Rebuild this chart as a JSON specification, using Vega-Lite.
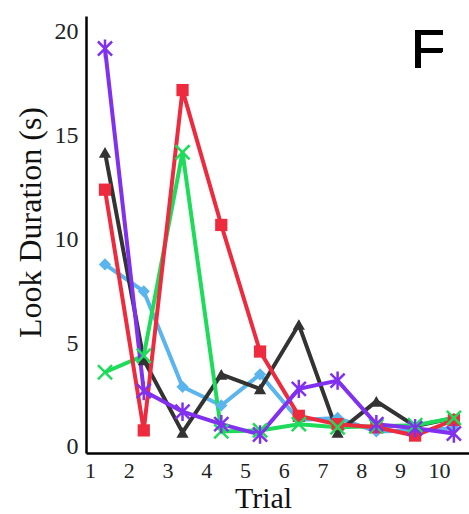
{
  "$schema": "https://vega.github.io/schema/vega-lite/v6.json",
  "width": 383,
  "height": 437,
  "autosize": {"type": "none"},
  "padding": {"left": 86, "top": 16, "right": 0, "bottom": 61},
  "background": "white",
  "config": {"view": {"stroke": null}},
  "data": {"values": [
    {"Trial": 1, "Series": "S3", "Duration": 8.8},
    {"Trial": 2, "Series": "S3", "Duration": 7.5},
    {"Trial": 3, "Series": "S3", "Duration": 2.9},
    {"Trial": 4, "Series": "S3", "Duration": 2.0},
    {"Trial": 5, "Series": "S3", "Duration": 3.5},
    {"Trial": 6, "Series": "S3", "Duration": 1.3},
    {"Trial": 7, "Series": "S3", "Duration": 1.4},
    {"Trial": 8, "Series": "S3", "Duration": 0.75},
    {"Trial": 9, "Series": "S3", "Duration": 0.8},
    {"Trial": 10, "Series": "S3", "Duration": 0.9},
    {"Trial": 1, "Series": "S2", "Duration": 14.2},
    {"Trial": 2, "Series": "S2", "Duration": 4.2},
    {"Trial": 3, "Series": "S2", "Duration": 0.7},
    {"Trial": 4, "Series": "S2", "Duration": 3.5},
    {"Trial": 5, "Series": "S2", "Duration": 2.8},
    {"Trial": 6, "Series": "S2", "Duration": 5.9},
    {"Trial": 7, "Series": "S2", "Duration": 0.7},
    {"Trial": 8, "Series": "S2", "Duration": 2.2},
    {"Trial": 9, "Series": "S2", "Duration": 1.0},
    {"Trial": 10, "Series": "S2", "Duration": 1.4},
    {"Trial": 1, "Series": "S4", "Duration": 3.6},
    {"Trial": 2, "Series": "S4", "Duration": 4.4},
    {"Trial": 3, "Series": "S4", "Duration": 14.2},
    {"Trial": 4, "Series": "S4", "Duration": 0.75},
    {"Trial": 5, "Series": "S4", "Duration": 0.8},
    {"Trial": 6, "Series": "S4", "Duration": 1.1},
    {"Trial": 7, "Series": "S4", "Duration": 0.95},
    {"Trial": 8, "Series": "S4", "Duration": 1.0},
    {"Trial": 9, "Series": "S4", "Duration": 1.05},
    {"Trial": 10, "Series": "S4", "Duration": 1.4},
    {"Trial": 1, "Series": "S1", "Duration": 12.4},
    {"Trial": 2, "Series": "S1", "Duration": 0.8},
    {"Trial": 3, "Series": "S1", "Duration": 17.2},
    {"Trial": 4, "Series": "S1", "Duration": 10.7},
    {"Trial": 5, "Series": "S1", "Duration": 4.6},
    {"Trial": 6, "Series": "S1", "Duration": 1.5},
    {"Trial": 7, "Series": "S1", "Duration": 1.1},
    {"Trial": 8, "Series": "S1", "Duration": 0.95},
    {"Trial": 9, "Series": "S1", "Duration": 0.55},
    {"Trial": 10, "Series": "S1", "Duration": 1.3},
    {"Trial": 1, "Series": "S5", "Duration": 19.2},
    {"Trial": 2, "Series": "S5", "Duration": 2.7},
    {"Trial": 3, "Series": "S5", "Duration": 1.7},
    {"Trial": 4, "Series": "S5", "Duration": 1.1},
    {"Trial": 5, "Series": "S5", "Duration": 0.6},
    {"Trial": 6, "Series": "S5", "Duration": 2.8},
    {"Trial": 7, "Series": "S5", "Duration": 3.2},
    {"Trial": 8, "Series": "S5", "Duration": 1.1},
    {"Trial": 9, "Series": "S5", "Duration": 0.9},
    {"Trial": 10, "Series": "S5", "Duration": 0.65}
  ]},
  "encoding": {
    "x": {"field": "Trial", "type": "quantitative",
      "scale": {"domain": [0.51, 10.39], "nice": false, "zero": false},
      "axis": {"values": [1,2,3,4,5,6,7,8,9,10], "grid": false, "ticks": false, "domainColor": "black", "domainWidth": 2.5,
        "labelFont": "Liberation Serif", "labelFontSize": 22, "labelColor": "#222", "labelOffset": -15, "labelPadding": 7, "labelFlush": false,
        "title": "Trial", "titleFont": "Liberation Serif", "titleFontSize": 30, "titleFontWeight": "normal", "titleColor": "#111", "titlePadding": 2, "titleX": 177}},
    "y": {"field": "Duration", "type": "quantitative",
      "scale": {"domain": [-0.29, 20.77], "nice": false, "zero": false},
      "axis": {"values": [0,5,10,15,20], "grid": false, "ticks": false, "domainColor": "black", "domainWidth": 2.5,
        "labelFont": "Liberation Serif", "labelFontSize": 24, "labelColor": "#222", "labelPadding": 8, "labelFlush": false,
        "title": "Look Duration (s)", "titleFont": "Liberation Serif", "titleFontSize": 32, "titleFontWeight": "normal", "titleColor": "#111",
        "titleX": -56, "titleY": 206, "titleBaseline": "middle", "titleAlign": "center"}}
  },
  "layer": [
    {"mark": {"type": "line", "strokeWidth": 4},
     "encoding": {
       "color": {"field": "Series", "type": "nominal",
         "scale": {"domain": ["S3", "S2", "S4", "S1", "S5"], "range": ["#5AB4EE", "#333333", "#1EDC5A", "#EE2A3E", "#8030EE"]},
         "legend": null},
       "detail": {"field": "Series"}}},
    {"transform": [{"filter": "datum.Series == 'S1' || datum.Series == 'S2' || datum.Series == 'S3'"}],
     "mark": {"type": "point", "filled": true, "opacity": 1},
     "encoding": {
       "color": {"field": "Series", "type": "nominal", "legend": null},
       "shape": {"field": "Series", "type": "nominal", "scale": {"domain": ["S1", "S2", "S3", "S4", "S5"], "range": ["square", "triangle-up", "diamond", "M-1,-1L1,1M-1,1L1,-1", "M-1,-1L1,1M-1,1L1,-1M0,-1.3L0,1.3"]}, "legend": null},
       "size": {"value": 150}}},
    {"transform": [{"filter": "datum.Series == 'S4' || datum.Series == 'S5'"}],
     "mark": {"type": "point", "filled": false, "opacity": 1, "strokeWidth": 2.5},
     "encoding": {
       "color": {"field": "Series", "type": "nominal", "legend": null},
       "shape": {"field": "Series", "type": "nominal", "scale": {"domain": ["S1", "S2", "S3", "S4", "S5"], "range": ["square", "triangle-up", "diamond", "M-1,-1L1,1M-1,1L1,-1", "M-1,-1L1,1M-1,1L1,-1M0,-1.3L0,1.3"]}, "legend": null},
       "size": {"value": 200}}},
    {"mark": {"type": "text", "text": "F", "font": "Liberation Sans", "fontSize": 56, "align": "left", "baseline": "alphabetic", "color": "black"},
     "encoding": {"x": {"datum": 8.89}, "y": {"datum": 18.26}}}
  ]
}
